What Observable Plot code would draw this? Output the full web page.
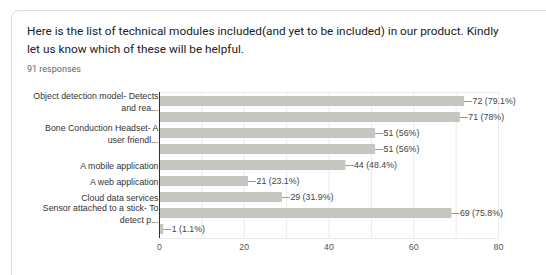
<!DOCTYPE html>
<html>
<head>
<meta charset="utf-8">
<script src="https://cdn.jsdelivr.net/npm/d3@7"></script>
<script src="https://cdn.jsdelivr.net/npm/@observablehq/plot@0.6"></script>
<style>
  html, body { margin: 0; padding: 0; background: #fff; width: 546px; height: 275px; overflow: hidden; }
  #card { position: absolute; left: 11px; top: 10px; width: 560px; height: 290px; border: 1px solid #dadce0; border-radius: 8px; box-sizing: border-box; }
  #title { position: absolute; left: 27px; top: 23px; width: 478px; font-family: Roboto, sans-serif; font-size: 11.8px; line-height: 17.5px; color: #202124; }
  #sub { position: absolute; left: 27px; top: 64px; font-family: Roboto, sans-serif; font-size: 9px; color: #5f6368; }
  #chart { position: absolute; left: 0; top: 85px; }
</style>
</head>
<body>
<div id="card"></div>
<div id="title">Here is the list of technical modules included(and yet to be included) in our product. Kindly let us know which of these will be helpful.</div>
<div id="sub">91 responses</div>
<div id="chart"></div>
<script>
const categoryLabels = [
  "Object detection model- Detects\nand rea...",
  "",
  "Bone Conduction Headset- A\nuser friendl...",
  "",
  "A mobile application",
  "A web application",
  "Cloud data services",
  "Sensor attached to a stick- To\ndetect p...",
  ""
];
const counts = [72, 71, 51, 51, 44, 21, 29, 69, 1];
const percents = ["79.1%", "78%", "56%", "56%", "48.4%", "23.1%", "31.9%", "75.8%", "1.1%"];
const xTicks = [0, 20, 40, 60, 80];
const gridValues = [0, 10, 20, 30, 40, 50, 60, 70, 80];

const data = counts.map((v, i) => ({ idx: i, label: categoryLabels[i], value: v, text: `${v} (${percents[i]})` }));

const chart = Plot.plot({
  width: 546,
  height: 190,
  marginLeft: 159,
  marginRight: 48,
  marginTop: 7,
  marginBottom: 37,
  style: { fontFamily: "'Liberation Sans', Arial, sans-serif", fontSize: "8.8px", background: "transparent" },
  x: { domain: [0, 80], ticks: xTicks, tickSize: 0, tickPadding: 5, label: null },
  y: { domain: data.map(d => d.idx), paddingInner: 0.4, paddingOuter: 0.22, axis: null },
  marks: [
    Plot.ruleX(gridValues, { stroke: "#ebebeb" }),
    Plot.frame({ stroke: "#ebebeb" }),
    Plot.barX(data, { x: "value", y: "idx", fill: "#c6c6c1" }),
    Plot.ruleY(data, { y: "idx", x1: "value", x2: "value", insetRight: -8, stroke: "#999" }),
    Plot.text(data, { x: "value", y: "idx", text: "text", textAnchor: "start", dx: 8, fill: "#444" }),
    Plot.text(data, { x: 0, y: "idx", text: "label", textAnchor: "end", dx: -1, lineHeight: 1.3, fill: "#333" }),
    Plot.ruleX([0], { stroke: "#333" }),
    Plot.axisX({ ticks: xTicks, tickSize: 0, tickPadding: 5, fill: "#555", label: null })
  ]
});
document.getElementById("chart").appendChild(chart);
</script>
</body>
</html>
